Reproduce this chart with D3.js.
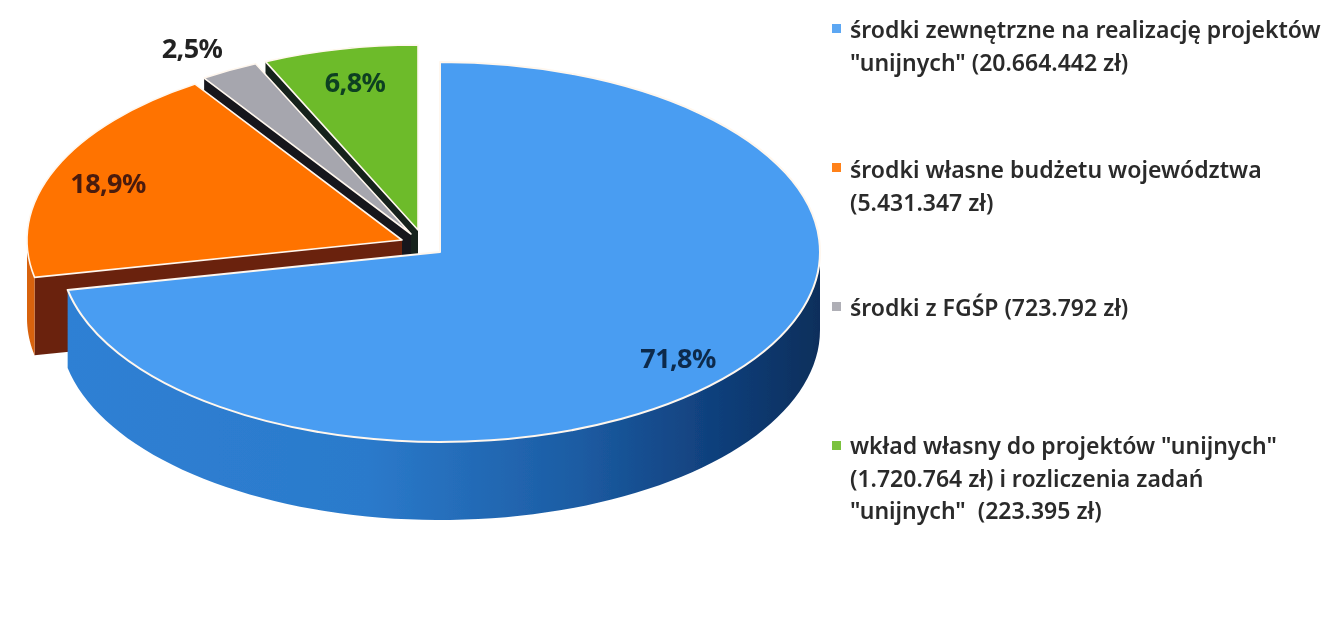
<!DOCTYPE html>
<html><head><meta charset="utf-8">
<script src="https://cdn.jsdelivr.net/npm/d3@7/dist/d3.min.js"></script>
<style>html,body{margin:0;padding:0;background:#fff}svg{display:block}</style></head>
<body><svg id="c" width="1321" height="634"></svg>
<script>
// data
const categories = ["środki zewnętrzne","środki własne","FGŚP","wkład własny"];
const shares = [71.8, 18.9, 2.5, 6.8];
const shareLabels = ["71,8%","18,9%","2,5%","6,8%"];
const legendLines = [
  ['środki zewnętrzne na realizację projektów','"unijnych" (20.664.442 zł)'],
  ['środki własne budżetu województwa','(5.431.347 zł)'],
  ['środki z FGŚP (723.792 zł)'],
  ['wkład własny do projektów "unijnych"','(1.720.764 zł) i rozliczenia zadań','"unijnych"  (223.395 zł)']
];
// layout and style
const topColor = ["#4a9df2","#ff7300","#a6a6ae","#6dbb2a"];
const cutColor = ["#2a7cd0","#6b2410","#15151c","#15201a"];
const labelColor = ["#0c2a4c","#4a1a10","#222222","#0e4020"];
const apex = [[440,252],[402,240],[411,234],[418,230]];
const rx = [380,375,375,368], ry = [190,187,187,185];
const depth = 78;
const labelPos = [[678,358],[108,183],[192,48],[355,82]];
const legendX = 850, markerX = 832;
const legendBase = [[38,71],[178,211],[316],[454,487,519]];
const markerY = [29,168,307,446];

const svg = d3.select("#c");
const defs = svg.append("defs");
const wallGrad = defs.append("linearGradient").attr("id","blueWall")
  .attr("gradientUnits","userSpaceOnUse").attr("x1",66).attr("x2",818).attr("y1",0).attr("y2",0);
[[0,"#2f80d4"],[0.4,"#2b7acb"],[0.68,"#1c5ca3"],[0.88,"#0f3d78"],[1,"#0b2f5c"]]
  .forEach(s=>wallGrad.append("stop").attr("offset",s[0]).attr("stop-color",s[1]));
defs.append("filter").attr("id","soft").append("feGaussianBlur").attr("stdDeviation",0.55);
defs.append("filter").attr("id","softText").append("feGaussianBlur").attr("stdDeviation",0.4);

const arcs = d3.pie().sort(null).value(d=>d)(shares);
const arcGen = d3.arc().innerRadius(0);
const g = svg.append("g").attr("filter","url(#soft)");
const pt = (i,a,dy=0)=>[apex[i][0]+rx[i]*Math.sin(a), apex[i][1]-ry[i]*Math.cos(a)+dy];
const poly = d3.line();

// back to front: green, gray, orange, blue
[3,2,1,0].forEach(i=>{
  const d = arcs[i], s = d.startAngle, e = d.endAngle;
  const cutA = i===0 ? null : s;
  if(cutA!==null){
    const p = pt(i,cutA);
    g.append("path").attr("fill",cutColor[i]).attr("d",poly([
      apex[i],p,[p[0],p[1]+depth],[apex[i][0],apex[i][1]+depth]
    ])+"Z");
  }
  const a0 = Math.max(s,Math.PI/2), a1 = Math.min(e,Math.PI*1.5);
  if(a1>a0){
    const n = 80, sc = d3.scaleLinear().domain([0,n]).range([a0,a1]);
    const up = d3.range(n+1).map(k=>pt(i,sc(k)));
    const dn = d3.range(n+1).map(k=>pt(i,sc(n-k),depth));
    g.append("path").attr("fill",i===0?"url(#blueWall)":"#d8620e").attr("d",poly(up.concat(dn))+"Z");
  }
  g.append("path")
    .attr("transform",`translate(${apex[i]}) scale(${rx[i]/100},${ry[i]/100})`)
    .attr("d",arcGen({innerRadius:0,outerRadius:100,startAngle:s,endAngle:e}))
    .attr("fill",topColor[i]).attr("stroke","#fff7ee").attr("stroke-width",i===0?2:1.6)
    .attr("stroke-linejoin","round").attr("vector-effect","non-scaling-stroke");
});

const font = "'Noto Sans',sans-serif";
const tg = svg.append("g").attr("filter","url(#softText)");
shareLabels.forEach((t,i)=>{
  tg.append("text").attr("x",labelPos[i][0]).attr("y",labelPos[i][1]+10)
    .attr("text-anchor","middle").attr("font-family",font).attr("font-weight",700)
    .attr("font-size",27).attr("letter-spacing",-0.6).attr("fill",labelColor[i]).text(t);
});
legendLines.forEach((lines,i)=>{
  tg.append("rect").attr("x",markerX).attr("y",markerY[i]-5).attr("width",9).attr("height",9)
    .attr("fill",topColor[i]).attr("opacity",0.9);
  lines.forEach((t,j)=>{
    tg.append("text").attr("x",legendX).attr("y",legendBase[i][j])
      .attr("font-family",font).attr("font-weight",600).attr("font-size",23)
      .attr("xml:space","preserve").style("white-space","pre")
      .attr("fill","#2b2b2b").text(t);
  });
});
</script></body></html>
